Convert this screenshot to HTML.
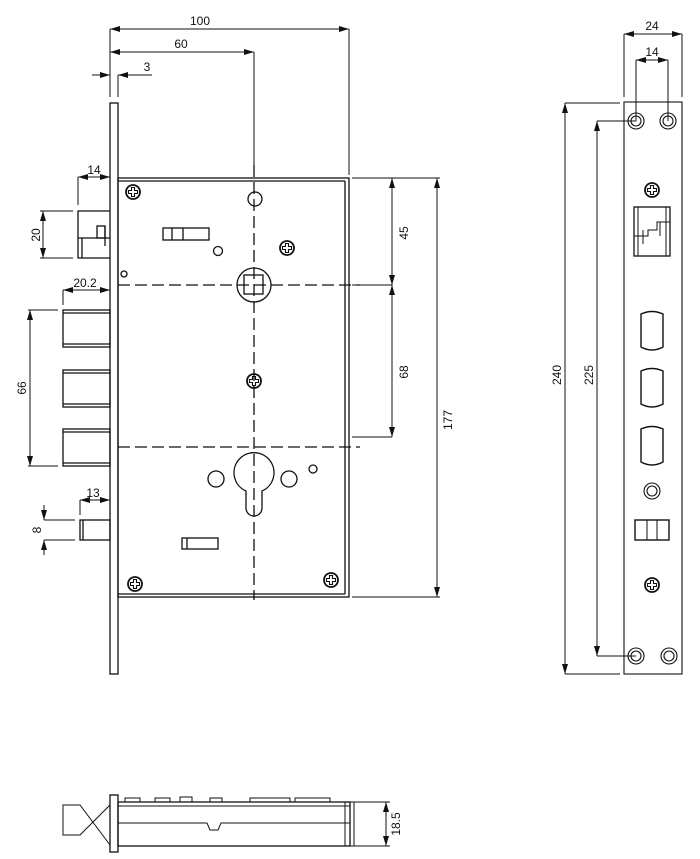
<!DOCTYPE html>
<html><head><meta charset="utf-8"><style>html,body{margin:0;padding:0;background:#fff}svg{display:block}text{font-family:"Liberation Sans Narrow","Liberation Sans",sans-serif;font-size:12px;fill:#111}</style></head><body>
<svg width="700" height="859" viewBox="0 0 700 859" xmlns="http://www.w3.org/2000/svg">
<defs>
<marker id="a" viewBox="0 0 10 6" refX="10" refY="3" markerWidth="10" markerHeight="6" orient="auto-start-reverse" markerUnits="userSpaceOnUse"><path d="M0,0 L10,3 L0,6 z" fill="#111"/></marker>
<g id="scr"><circle r="7" fill="none" stroke="#111" stroke-width="1.8"/><path d="M-1.5,-4.5h3v3h3v3h-3v3h-3v-3h-3v-3h3z" fill="none" stroke="#111" stroke-width="1.1"/></g>
<g id="hole"><circle r="8" fill="none" stroke="#111" stroke-width="1.1"/><circle r="5" fill="none" stroke="#111" stroke-width="1.1"/></g>
<path id="oval" d="M-11,-17 Q0,-22 11,-17 V16 Q0,22 -11,16 Z" fill="none" stroke="#111" stroke-width="1.4"/>
</defs>
<g stroke="#111" stroke-width="1.3" fill="none">
<rect x="110" y="103" width="8" height="571"/>
<rect x="118" y="178" width="231" height="419"/>
<line x1="118" y1="181" x2="345" y2="181"/>
<line x1="345" y1="181" x2="345" y2="594"/>
<line x1="118" y1="594" x2="345" y2="594"/>
<line x1="254" y1="165" x2="254" y2="600" stroke-dasharray="12,5"/>
<line x1="118" y1="285" x2="360" y2="285" stroke-dasharray="12,5"/>
<line x1="118" y1="447" x2="360" y2="447" stroke-dasharray="12,5"/>
<circle cx="255" cy="199" r="7"/>
<rect x="163" y="228" width="46" height="12"/><line x1="172" y1="228" x2="172" y2="240"/><line x1="183" y1="228" x2="183" y2="240"/>
<circle cx="218" cy="251" r="4.5"/>
<circle cx="124" cy="274" r="3"/>
<circle cx="254" cy="285" r="17"/><rect x="244" y="275" width="19" height="19"/>
<path d="M246,491 A20,20 0 1 1 262,491 V508 A8,8 0 0 1 246,508 Z"/>
<circle cx="216" cy="479" r="8"/><circle cx="289" cy="479" r="8"/><circle cx="313" cy="469" r="4"/>
<rect x="182" y="538" width="36" height="11"/><line x1="187" y1="538" x2="187" y2="549"/>
<path d="M110,211 H78 V258 H110"/><line x1="78" y1="238" x2="110" y2="238"/><line x1="82" y1="238" x2="82" y2="258"/>
<rect x="97" y="226" width="8" height="12"/><line x1="105" y1="226" x2="105" y2="246"/>
<rect x="63" y="310" width="47" height="37"/><line x1="63" y1="344" x2="110" y2="344"/><line x1="63" y1="313" x2="110" y2="313"/>
<rect x="63" y="370" width="47" height="37"/><line x1="63" y1="404" x2="110" y2="404"/><line x1="63" y1="373" x2="110" y2="373"/>
<rect x="63" y="429" width="47" height="37"/><line x1="63" y1="463" x2="110" y2="463"/><line x1="63" y1="432" x2="110" y2="432"/>
<rect x="80" y="520" width="30" height="20"/><line x1="83" y1="520" x2="83" y2="540"/>
</g>
<use href="#scr" x="133" y="192"/><use href="#scr" x="287" y="248"/><use href="#scr" x="254" y="381"/><use href="#scr" x="135" y="584"/><use href="#scr" x="331" y="580"/>
<g stroke="#111" stroke-width="1" fill="none">
<line x1="110" y1="29" x2="110" y2="97"/><line x1="118" y1="75" x2="118" y2="97"/>
<line x1="254" y1="52" x2="254" y2="165"/><line x1="349" y1="29" x2="349" y2="175"/>
<line x1="110" y1="29" x2="349" y2="29" marker-start="url(#a)" marker-end="url(#a)"/>
<line x1="110" y1="52" x2="254" y2="52" marker-start="url(#a)" marker-end="url(#a)"/>
<line x1="92" y1="75" x2="110" y2="75" marker-end="url(#a)"/><line x1="152" y1="75" x2="118" y2="75" marker-end="url(#a)"/>
<line x1="352" y1="178" x2="440" y2="178"/><line x1="352" y1="285" x2="392" y2="285"/><line x1="352" y1="437" x2="392" y2="437"/><line x1="352" y1="597" x2="440" y2="597"/>
<line x1="392" y1="178" x2="392" y2="285" marker-start="url(#a)" marker-end="url(#a)"/>
<line x1="392" y1="285" x2="392" y2="437" marker-start="url(#a)" marker-end="url(#a)"/>
<line x1="437" y1="178" x2="437" y2="597" marker-start="url(#a)" marker-end="url(#a)"/>
<line x1="78" y1="177" x2="78" y2="205"/><line x1="78" y1="177" x2="110" y2="177" marker-start="url(#a)" marker-end="url(#a)"/>
<line x1="40" y1="211" x2="73" y2="211"/><line x1="40" y1="258" x2="73" y2="258"/>
<line x1="43" y1="211" x2="43" y2="258" marker-start="url(#a)" marker-end="url(#a)"/>
<line x1="63" y1="290" x2="63" y2="305"/><line x1="63" y1="290" x2="110" y2="290" marker-start="url(#a)" marker-end="url(#a)"/>
<line x1="28" y1="310" x2="58" y2="310"/><line x1="28" y1="466" x2="58" y2="466"/>
<line x1="30" y1="310" x2="30" y2="466" marker-start="url(#a)" marker-end="url(#a)"/>
<line x1="80" y1="500" x2="80" y2="515"/><line x1="80" y1="500" x2="110" y2="500" marker-start="url(#a)" marker-end="url(#a)"/>
<line x1="44" y1="520" x2="75" y2="520"/><line x1="44" y1="540" x2="75" y2="540"/>
<line x1="44" y1="505" x2="44" y2="520" marker-end="url(#a)"/><line x1="44" y1="555" x2="44" y2="540" marker-end="url(#a)"/>
<line x1="624" y1="34" x2="624" y2="97"/><line x1="682" y1="34" x2="682" y2="97"/>
<line x1="624" y1="34" x2="682" y2="34" marker-start="url(#a)" marker-end="url(#a)"/>
<line x1="636" y1="60" x2="636" y2="121"/><line x1="668" y1="60" x2="668" y2="121"/>
<line x1="636" y1="60" x2="668" y2="60" marker-start="url(#a)" marker-end="url(#a)"/>
<line x1="565" y1="103" x2="620" y2="103"/><line x1="565" y1="674" x2="620" y2="674"/>
<line x1="565" y1="103" x2="565" y2="674" marker-start="url(#a)" marker-end="url(#a)"/>
<line x1="597" y1="121" x2="636" y2="121"/><line x1="597" y1="656" x2="636" y2="656"/>
<line x1="597" y1="121" x2="597" y2="656" marker-start="url(#a)" marker-end="url(#a)"/>
<rect x="624" y="102" width="58" height="572" stroke-width="1.1"/>
<rect x="634" y="207" width="36" height="49" stroke-width="1.3"/>
<line x1="638" y1="207" x2="638" y2="256"/><line x1="666" y1="207" x2="666" y2="256"/>
<path d="M634,236 H648 V230 H657 V222 H670"/><line x1="643" y1="230" x2="643" y2="244"/><line x1="660" y1="222" x2="660" y2="236"/>
<rect x="635" y="520" width="34" height="20" stroke-width="1.4"/><line x1="647" y1="520" x2="647" y2="540"/><line x1="657" y1="520" x2="657" y2="540"/>
<rect x="110" y="795" width="8" height="57" stroke-width="1.3"/>
<rect x="118" y="802" width="232" height="44" stroke-width="1.3"/>
<line x1="118" y1="806" x2="350" y2="806"/><line x1="118" y1="823" x2="207" y2="823"/>
<path d="M207,823 L210,830 H218 L221,823 H350"/>
<line x1="345" y1="802" x2="345" y2="846"/><rect x="350" y="802" width="4" height="44"/>
<path d="M110,845 L80,805 H63 V835 H80 L110,805" />
<path d="M125,802 V798 H140 V802 M155,802 V798 H170 V802 M180,802 V797 H192 V802 M210,802 V798 H222 V802 M250,802 V798 H290 V802 M295,802 V798 H330 V802"/>
<line x1="354" y1="802" x2="390" y2="802"/><line x1="354" y1="846" x2="390" y2="846"/>
<line x1="386" y1="802" x2="386" y2="846" marker-start="url(#a)" marker-end="url(#a)"/>
</g>
<use href="#hole" x="636" y="121"/><use href="#hole" x="668" y="121"/><use href="#hole" x="636" y="656"/><use href="#hole" x="669" y="656"/>
<use href="#hole" x="652" y="491"/>
<use href="#scr" x="652" y="190"/><use href="#scr" x="652" y="585"/>
<use href="#oval" x="652" y="331"/><use href="#oval" x="652" y="388"/><use href="#oval" x="652" y="446"/>
<text x="200" y="25" text-anchor="middle">100</text>
<text x="181" y="48" text-anchor="middle">60</text>
<text x="147" y="71" text-anchor="middle">3</text>
<text x="94" y="174" text-anchor="middle">14</text>
<text x="85" y="287" text-anchor="middle">20.2</text>
<text x="93" y="497" text-anchor="middle">13</text>
<text x="652" y="30" text-anchor="middle">24</text>
<text x="652" y="56" text-anchor="middle">14</text>
<text transform="translate(40,235) rotate(-90)" text-anchor="middle">20</text>
<text transform="translate(26,388) rotate(-90)" text-anchor="middle">66</text>
<text transform="translate(41,530) rotate(-90)" text-anchor="middle">8</text>
<text transform="translate(408,233) rotate(-90)" text-anchor="middle">45</text>
<text transform="translate(408,372) rotate(-90)" text-anchor="middle">68</text>
<text transform="translate(452,420) rotate(-90)" text-anchor="middle">177</text>
<text transform="translate(561,375) rotate(-90)" text-anchor="middle">240</text>
<text transform="translate(593,375) rotate(-90)" text-anchor="middle">225</text>
<text transform="translate(400,824) rotate(-90)" text-anchor="middle">18.5</text>
</svg>
</body></html>
